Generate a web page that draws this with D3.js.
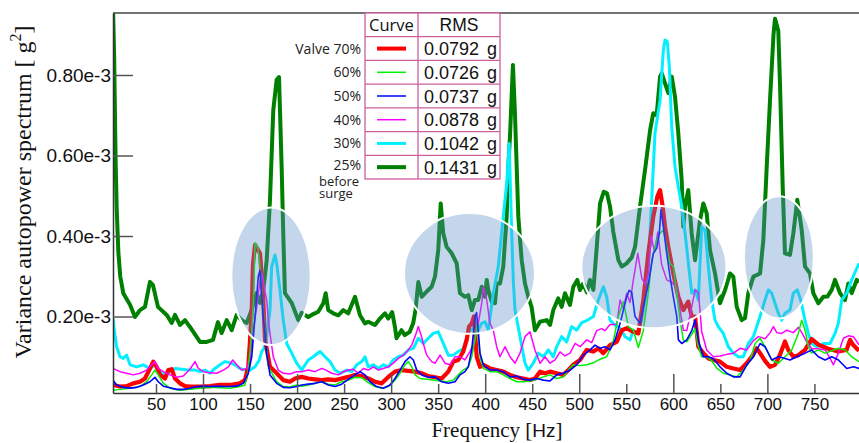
<!DOCTYPE html>
<html>
<head>
<meta charset="utf-8">
<script src="https://cdn.jsdelivr.net/npm/d3@7"></script>
<style>
  body { margin: 0; background: #fff; }
  svg { display: block; font-family: "Liberation Sans", Arial, sans-serif; }
</style>
</head>
<body>
<div id="chart"></div>
<script>
// Spectra, [frequency Hz, value in 1e-3 g^2]
const valve25 = [[4.3,0.97],[5.5,0.85],[7,0.6],[8.2,0.47],[10,0.36],[12,0.3],[15.2,0.258],[22.4,0.229],[27.7,0.199],[33,0.216],[38.3,0.224],[43.6,0.286],[46.8,0.278],[52.1,0.224],[61.4,0.204],[66.7,0.184],[70.2,0.204],[75.5,0.179],[80.8,0.191],[86.1,0.174],[96.8,0.137],[103.9,0.137],[110.6,0.142],[115.9,0.186],[119.8,0.159],[125.2,0.191],[130.5,0.166],[135.8,0.204],[141.1,0.191],[146.4,0.184],[151.7,0.216],[157.1,0.258],[160.6,0.234],[164.1,0.266],[167.7,0.34],[171.2,0.489],[174.7,0.713],[178.3,0.788],[180.8,0.795],[183.6,0.571],[185.3,0.407],[187.1,0.258],[194.2,0.234],[201.3,0.191],[204.9,0.209],[211.9,0.199],[217.2,0.206],[222.5,0.212],[227.9,0.233],[230.4,0.258],[233.1,0.216],[238.5,0.208],[243.8,0.203],[249.1,0.216],[254.4,0.208],[261.6,0.249],[266.9,0.203],[272.2,0.183],[275.6,0.187],[282.8,0.179],[288.1,0.195],[293.4,0.208],[296.9,0.195],[301.1,0.211],[304,0.175],[305.7,0.146],[311,0.166],[314.5,0.154],[319.8,0.162],[323.4,0.183],[325.9,0.216],[328.9,0.286],[332.5,0.249],[337.8,0.262],[343.1,0.274],[346.6,0.299],[350.1,0.365],[352.7,0.481],[355.4,0.407],[359,0.373],[364.4,0.357],[369.7,0.332],[373.2,0.258],[378.5,0.249],[382,0.253],[385.7,0.216],[389.1,0.241],[392.6,0.241],[396.3,0.274],[399.8,0.249],[401.6,0.291],[403.3,0.266],[406.9,0.237],[410.4,0.233],[412.2,0.282],[415.7,0.282],[419.2,0.324],[422.8,0.448],[424.6,0.572],[426.4,0.65],[429.5,0.825],[431.7,0.7],[435.2,0.448],[438.8,0.34],[442.3,0.282],[445.8,0.249],[449.3,0.224],[452.9,0.166],[458.3,0.187],[465.4,0.191],[468.9,0.179],[472.4,0.216],[477.7,0.245],[481.3,0.224],[484.8,0.258],[490.1,0.229],[493.7,0.274],[497.9,0.291],[500.8,0.266],[504.3,0.282],[508,0.26],[511.4,0.291],[515,0.266],[518.6,0.373],[522.1,0.481],[526,0.51],[529.5,0.506],[532.7,0.473],[536.2,0.41],[541.6,0.34],[545.2,0.324],[550.4,0.332],[555.8,0.347],[559.3,0.373],[564.6,0.473],[569.9,0.564],[575.3,0.663],[578.7,0.705],[582.3,0.7],[585.9,0.796],[587.7,0.804],[591.2,0.779],[594.7,0.755],[598.3,0.796],[601.8,0.746],[605.3,0.655],[608.9,0.539],[610.6,0.423],[612.4,0.473],[615.9,0.514],[619.5,0.407],[623.1,0.34],[628.4,0.44],[631.9,0.481],[635.5,0.456],[639,0.365],[644.3,0.307],[649.6,0.233],[655,0.266],[660.3,0.307],[663.8,0.299],[667.4,0.224],[672.7,0.191],[676.2,0.196],[679.7,0.258],[685.1,0.299],[692.2,0.307],[695.7,0.39],[699.3,0.572],[702.8,0.738],[706.5,0.9],[708.1,0.94],[711.6,0.91],[713.4,0.779],[716.3,0.522],[718.7,0.357],[724,0.353],[727.6,0.407],[731.8,0.49],[736.5,0.415],[740,0.324],[745.3,0.307],[748.8,0.258],[754.2,0.233],[759.5,0.249],[764,0.25],[768.4,0.266],[771.9,0.291],[777.2,0.258],[782.5,0.241],[786.1,0.282],[789.7,0.258],[795,0.291],[797.4,0.285]];

const valve30 = [[4.3,0.195],[6,0.16],[8.2,0.125],[11.7,0.1],[15.2,0.096],[18.8,0.104],[22.4,0.08],[29.5,0.075],[36.5,0.08],[43.6,0.071],[48.9,0.08],[54.3,0.063],[59.6,0.055],[64.9,0.063],[70.2,0.071],[77.3,0.069],[84.3,0.067],[91.5,0.067],[96.8,0.063],[102.1,0.067],[107.4,0.059],[112.7,0.071],[118,0.08],[123.4,0.088],[128.7,0.085],[134,0.08],[139.3,0.071],[144.6,0.067],[150,0.067],[155.3,0.075],[159.8,0.092],[162.4,0.113],[164.8,0.121],[167.7,0.15],[171.2,0.216],[173,0.324],[176.5,0.353],[178.3,0.332],[181.8,0.266],[185.3,0.191],[189,0.133],[194.3,0.109],[199.6,0.084],[204.9,0.067],[211.9,0.092],[217.2,0.1],[224.4,0.113],[229.7,0.1],[235,0.088],[240.3,0.067],[245.6,0.059],[252.8,0.067],[258.1,0.063],[263.4,0.08],[268.7,0.088],[272.2,0.1],[275.7,0.075],[281.1,0.08],[286.4,0.071],[291.7,0.08],[297,0.075],[302.3,0.092],[307.6,0.1],[312.9,0.104],[318.3,0.117],[323.6,0.121],[328.9,0.146],[334.2,0.133],[339.5,0.146],[344.8,0.158],[350.1,0.162],[355.5,0.133],[360.8,0.104],[366.1,0.104],[371.4,0.113],[376.7,0.12],[382,0.16],[387.3,0.171],[390.9,0.158],[396.2,0.183],[399.8,0.187],[403.3,0.166],[408.6,0.258],[413.9,0.324],[419.2,0.448],[422.9,0.531],[425.5,0.63],[428.2,0.407],[430,0.282],[431.7,0.216],[437,0.15],[442.3,0.084],[445.8,0.067],[451.1,0.084],[456.4,0.109],[461.8,0.1],[467.1,0.117],[472.4,0.1],[476,0.125],[481.3,0.15],[486.6,0.137],[491.9,0.175],[497.2,0.166],[502.6,0.185],[507.9,0.19],[515,0.2],[520.3,0.241],[525.6,0.274],[529.2,0.249],[532.7,0.191],[538,0.179],[543.3,0.171],[548.7,0.15],[554,0.142],[557.5,0.166],[562.8,0.158],[566.4,0.191],[569.9,0.241],[573.4,0.324],[577,0.489],[580.5,0.655],[585.9,0.738],[589.4,0.862],[591.2,0.887],[593.6,0.883],[595.8,0.82],[598.3,0.671],[601.8,0.572],[605.3,0.522],[609,0.473],[612.5,0.407],[616,0.332],[619.6,0.258],[623.1,0.266],[626.6,0.241],[630.2,0.423],[633.7,0.415],[637.2,0.324],[640.8,0.241],[644.3,0.191],[647.8,0.175],[653.1,0.158],[658.5,0.125],[663.8,0.109],[669.1,0.1],[674.4,0.1],[679.7,0.133],[685.1,0.15],[692.2,0.2],[697.5,0.241],[701,0.266],[704.6,0.258],[708.1,0.233],[711.7,0.208],[715.2,0.191],[718.7,0.208],[724,0.216],[727.6,0.258],[731.8,0.266],[735.4,0.241],[740,0.191],[743.5,0.158],[747.1,0.133],[752.4,0.125],[759.4,0.133],[766.6,0.133],[771.9,0.158],[775.4,0.183],[779,0.241],[784.3,0.258],[789.6,0.291],[797.4,0.332]];

const valve40 = [[4.3,0.071],[11.7,0.063],[18.8,0.059],[25.9,0.055],[33,0.059],[40.1,0.067],[45.4,0.08],[48.9,0.088],[52.4,0.071],[57.8,0.063],[64.9,0.055],[72,0.049],[79,0.052],[86.1,0.069],[91.5,0.088],[95,0.071],[100.3,0.063],[107.4,0.06],[114.5,0.059],[121.6,0.067],[126.9,0.075],[131.6,0.092],[135.8,0.08],[141.1,0.067],[146.4,0.071],[150,0.1],[153.5,0.166],[157.1,0.224],[160.6,0.29],[163.3,0.305],[166,0.26],[167.7,0.241],[169.5,0.19],[171.2,0.158],[174.7,0.1],[180,0.067],[185.3,0.059],[192.4,0.057],[199.6,0.063],[204.9,0.063],[211.9,0.067],[219.1,0.063],[226.2,0.071],[229.7,0.068],[236.8,0.059],[243.9,0.055],[249.2,0.063],[254.5,0.067],[259.8,0.069],[265.1,0.059],[270.5,0.071],[275.8,0.067],[281.1,0.075],[286.4,0.067],[291.7,0.071],[297,0.075],[302.3,0.084],[307.6,0.096],[312.9,0.104],[318.2,0.117],[321.9,0.129],[325.4,0.15],[328.9,0.175],[331.8,0.154],[334.2,0.133],[337.8,0.104],[343.1,0.088],[346.7,0.084],[352,0.104],[357.3,0.084],[362.6,0.08],[367.9,0.1],[373.2,0.1],[378.5,0.092],[383.8,0.113],[389.2,0.142],[392.7,0.183],[396.3,0.233],[398,0.274],[401.6,0.241],[405.1,0.183],[408.6,0.166],[412.2,0.125],[415.7,0.1],[421,0.125],[426.4,0.1],[431.7,0.084],[437,0.109],[442.3,0.15],[447.6,0.162],[452.9,0.117],[458.3,0.084],[463.6,0.1],[468.9,0.084],[474.2,0.092],[479.5,0.112],[484.8,0.102],[490.2,0.109],[495.5,0.133],[500.8,0.125],[507.9,0.142],[513.2,0.135],[518.5,0.165],[523.9,0.17],[527.4,0.165],[532.7,0.18],[539.8,0.18],[543.4,0.241],[546.9,0.22],[550.5,0.258],[554,0.235],[557.5,0.291],[562.2,0.357],[566.5,0.295],[570,0.28],[573.5,0.307],[576.5,0.4],[580,0.36],[583.5,0.41],[587.5,0.33],[593,0.291],[598.4,0.285],[603.7,0.27],[607.2,0.216],[610.7,0.166],[614.3,0.165],[619.6,0.224],[623.2,0.266],[626.7,0.26],[630.2,0.162],[635.5,0.117],[642.6,0.1],[649.7,0.102],[656.8,0.106],[663.9,0.109],[671,0.121],[678.1,0.117],[685.2,0.14],[690.5,0.15],[697.6,0.145],[702.9,0.16],[706.4,0.175],[710,0.16],[715.3,0.158],[720.6,0.166],[727.6,0.16],[733,0.173],[736.6,0.16],[741.9,0.137],[747.2,0.12],[754.2,0.12],[761.4,0.117],[766.7,0.096],[770.2,0.08],[775.5,0.109],[780.8,0.146],[786.1,0.152],[791.4,0.15],[797.4,0.13]];

const valve50 = [[4.3,0.042],[8.2,0.03],[15.2,0.024],[22.4,0.022],[29.5,0.024],[36.5,0.03],[43.6,0.038],[48.9,0.049],[52.4,0.038],[57.8,0.027],[64.9,0.023],[72,0.019],[79,0.019],[86.1,0.022],[93.3,0.026],[100.3,0.027],[107.4,0.026],[114.5,0.027],[121.6,0.026],[128.7,0.026],[135.8,0.027],[142.8,0.034],[148.1,0.059],[151.8,0.1],[155.3,0.2],[158.8,0.3],[160.6,0.315],[162.3,0.26],[164.1,0.2],[167.7,0.109],[171.2,0.055],[178.3,0.034],[185.3,0.024],[192.4,0.023],[199.6,0.026],[204.9,0.03],[211.9,0.032],[219.1,0.034],[226.2,0.038],[233.2,0.03],[240.3,0.026],[247.4,0.032],[254.5,0.044],[261.6,0.055],[266.9,0.063],[272.2,0.055],[277.5,0.038],[284.6,0.026],[291.7,0.022],[298.8,0.03],[304.1,0.046],[309.4,0.067],[314.7,0.088],[320,0.1],[323.6,0.092],[327.2,0.067],[332.5,0.055],[339.5,0.049],[346.6,0.05],[353.8,0.038],[360.8,0.034],[367.9,0.038],[373.2,0.055],[378.5,0.063],[382,0.075],[385.7,0.117],[389.2,0.2],[390.8,0.21],[392.4,0.17],[394.5,0.109],[398,0.08],[405.1,0.067],[412.2,0.067],[419.3,0.063],[426.4,0.05],[433.5,0.052],[440.5,0.044],[447.6,0.042],[454.7,0.046],[461.8,0.042],[468.9,0.04],[476,0.055],[483,0.059],[490.2,0.067],[497.3,0.08],[504.4,0.104],[511.5,0.117],[516.8,0.129],[522.1,0.121],[527.4,0.125],[532.7,0.117],[538.1,0.142],[543.4,0.183],[546.9,0.216],[550.5,0.249],[553,0.265],[555.8,0.26],[559.3,0.2],[564.6,0.183],[568.2,0.224],[573.5,0.282],[578.8,0.357],[582.4,0.37],[585.1,0.407],[586.9,0.465],[589.4,0.423],[593,0.357],[596.5,0.299],[600,0.249],[603.7,0.2],[605.4,0.142],[609,0.133],[614.3,0.142],[619.6,0.165],[623.1,0.191],[626.7,0.14],[632,0.1],[637.3,0.1],[642.6,0.095],[649.7,0.075],[656.8,0.059],[663.9,0.05],[671,0.05],[678.1,0.08],[685.2,0.1],[692.2,0.133],[697.5,0.125],[704.6,0.092],[711.7,0.1],[717,0.097],[724.1,0.092],[731.2,0.1],[740,0.109],[747.1,0.117],[754.2,0.1],[761.3,0.092],[768.4,0.1],[775.5,0.092],[784.4,0.071],[791.5,0.075],[797.4,0.071]];

const valve60 = [[4.3,0.017],[11.7,0.019],[22.4,0.022],[33,0.026],[40.1,0.038],[45.4,0.055],[48.9,0.067],[52.4,0.055],[57.8,0.034],[64.9,0.022],[75.5,0.017],[86.1,0.019],[96.8,0.022],[107.4,0.024],[118,0.023],[128.7,0.022],[139.3,0.026],[144.6,0.03],[148.1,0.067],[151.8,0.166],[153.5,0.233],[155.3,0.383],[158.5,0.37],[160.6,0.324],[163.8,0.22],[166,0.159],[169.5,0.075],[178.3,0.038],[185.3,0.026],[192.4,0.025],[199.6,0.03],[205.2,0.027],[211.9,0.03],[219.1,0.034],[226.2,0.038],[233.2,0.032],[240.3,0.03],[247.4,0.038],[254.5,0.042],[261.6,0.049],[268.7,0.048],[275.7,0.036],[282.8,0.026],[290,0.022],[297,0.026],[304.1,0.042],[309.4,0.059],[314.7,0.08],[318.3,0.088],[321.9,0.075],[325.4,0.055],[330.7,0.046],[337.8,0.044],[344.8,0.042],[351.9,0.04],[359,0.038],[366.1,0.042],[371.4,0.055],[376.7,0.067],[382,0.075],[385.7,0.1],[389.1,0.142],[391.3,0.18],[394.5,0.1],[398,0.071],[405.1,0.063],[412.2,0.063],[419.3,0.055],[426.4,0.046],[433.5,0.038],[440.5,0.038],[447.6,0.04],[454.7,0.044],[461.8,0.05],[468.9,0.055],[476,0.046],[483,0.05],[488.4,0.067],[493.7,0.08],[500.8,0.078],[507.9,0.08],[515,0.085],[522.1,0.094],[529.2,0.1],[536.3,0.14],[541.6,0.2],[546.9,0.237],[552.2,0.175],[557.5,0.166],[562.8,0.123],[568.1,0.165],[573.4,0.258],[577,0.34],[582.3,0.39],[585.9,0.407],[589.4,0.415],[593,0.373],[596.5,0.332],[600,0.324],[603.6,0.258],[607.1,0.191],[610.6,0.142],[614.2,0.137],[619.5,0.155],[623.1,0.17],[626.6,0.125],[630.2,0.1],[635.5,0.1],[640.8,0.09],[646.1,0.072],[653.2,0.059],[660.3,0.055],[667.4,0.05],[674.4,0.067],[681.6,0.09],[686.9,0.133],[692.2,0.146],[697.5,0.125],[704.6,0.092],[711.7,0.084],[718.8,0.1],[725.9,0.117],[732.9,0.158],[736.5,0.191],[740,0.166],[743.6,0.125],[747.1,0.109],[754.2,0.117],[761.3,0.109],[768.4,0.115],[775.5,0.121],[782.6,0.117],[789.7,0.1],[797.4,0.088]];

const valve70 = [[4.3,0.03],[11.7,0.026],[18.8,0.027],[25.9,0.034],[33,0.038],[38.3,0.046],[43.6,0.071],[47.1,0.088],[50.7,0.075],[54.3,0.055],[59.6,0.046],[63.1,0.067],[66.7,0.069],[70.2,0.046],[75.5,0.034],[80.8,0.027],[86.1,0.026],[96.8,0.026],[107.4,0.027],[118,0.03],[128.7,0.03],[139.3,0.034],[144.6,0.042],[148.1,0.075],[150,0.142],[151.8,0.216],[153.1,0.33],[155.3,0.378],[160.6,0.357],[163.8,0.25],[166,0.142],[171.2,0.075],[178.3,0.059],[185.3,0.042],[192.4,0.038],[197.8,0.046],[204.9,0.05],[211.9,0.046],[219.1,0.044],[226.2,0.042],[233.2,0.044],[240.3,0.042],[247.4,0.046],[254.5,0.05],[261.6,0.055],[268.7,0.052],[275.7,0.046],[282.8,0.038],[290,0.034],[297,0.05],[304.1,0.063],[311.2,0.067],[318.2,0.065],[325.4,0.063],[332.5,0.059],[339.5,0.052],[346.6,0.049],[353.8,0.046],[360.8,0.063],[366.1,0.088],[371.4,0.092],[376.7,0.113],[380.3,0.142],[382.8,0.175],[385.7,0.183],[388.1,0.2],[391,0.1],[394.5,0.075],[398,0.08],[405.1,0.071],[412.2,0.067],[419.3,0.063],[426.4,0.055],[433.5,0.049],[440.5,0.046],[447.6,0.042],[452.9,0.046],[458.3,0.063],[463.6,0.059],[468.9,0.063],[476,0.059],[483,0.055],[488.4,0.067],[493.7,0.08],[500.8,0.092],[507.9,0.117],[515,0.113],[520.3,0.121],[525.6,0.109],[532.7,0.129],[539.8,0.137],[545.2,0.166],[550.5,0.171],[557.5,0.162],[562.8,0.158],[568.1,0.241],[573.4,0.357],[578.7,0.448],[583,0.498],[585.9,0.514],[588.7,0.473],[591.2,0.423],[594.7,0.373],[600,0.307],[605.3,0.249],[610.6,0.216],[615.9,0.237],[619.5,0.2],[623.1,0.2],[626.6,0.125],[631.9,0.109],[637.2,0.096],[642.6,0.092],[649.6,0.088],[656.8,0.075],[663.8,0.071],[671,0.067],[678,0.084],[683.3,0.1],[688.7,0.121],[692.2,0.109],[697.5,0.09],[702.8,0.075],[708.1,0.08],[713.4,0.105],[718.7,0.138],[722.2,0.117],[727.6,0.1],[732.9,0.104],[740,0.117],[747.1,0.144],[754.2,0.13],[764.8,0.12],[775.4,0.113],[784.3,0.117],[787.8,0.142],[791.3,0.129],[797.4,0.115]];

// Legend table
const curveLabels = ["Valve 70%", "60%", "50%", "40%", "30%", "25%"];
const rmsValues = ["0.0792", "0.0726", "0.0737", "0.0878", "0.1042", "0.1431"];

// Ticks
const xTicks = [50, 100, 150, 200, 250, 300, 350, 400, 450, 500, 550, 600, 650, 700, 750];
const yTicks = [0.2, 0.4, 0.6, 0.8];

// Highlighted zones: [centre Hz, half width Hz, centre value, half height value]
const zones = [[172.3, 42.2, 0.30, 0.171], [383.3, 69.6, 0.307, 0.150], [579.4, 77.1, 0.323, 0.152], [712.2, 37.2, 0.347, 0.152]];

const width = 859, height = 443;
const plot = { left: 113, right: 859, top: 13, bottom: 393 };

const svg = d3.select("#chart").append("svg")
    .attr("width", width)
    .attr("height", height);

const x = d3.scaleLinear().domain([4.3, 797.4]).range([plot.left, plot.right]);
const y = d3.scaleLinear().domain([0.01, 0.954]).range([plot.bottom, plot.top]);

svg.append("clipPath").attr("id", "clip")
    .append("rect")
    .attr("x", plot.left).attr("y", plot.top)
    .attr("width", plot.right - plot.left).attr("height", plot.bottom - plot.top);

// Series, back to front
const series = [
    { data: valve25, color: "#008000", width: 4 },
    { data: valve30, color: "#00f0ff", width: 3 },
    { data: valve70, color: "#ff0000", width: 4.2 },
    { data: valve40, color: "#ff00ff", width: 1.5 },
    { data: valve60, color: "#00f000", width: 1.5 },
    { data: valve50, color: "#0000ff", width: 1.6 }
];

const line = d3.line().x(d => x(d[0])).y(d => y(d[1]));

const lines = svg.append("g").attr("clip-path", "url(#clip)");
lines.selectAll("path")
    .data(series)
    .join("path")
    .attr("d", d => line(d.data))
    .attr("fill", "none")
    .attr("stroke", d => d.color)
    .attr("stroke-width", d => d.width)
    .attr("stroke-linejoin", "round");

// Highlight ellipses
svg.append("g").selectAll("ellipse")
    .data(zones)
    .join("ellipse")
    .attr("cx", d => x(d[0]))
    .attr("cy", d => y(d[2]))
    .attr("rx", d => x(d[0] + d[1]) - x(d[0]))
    .attr("ry", d => y(d[2] - d[3]) - y(d[2]))
    .attr("fill", "#5c8dc9")
    .attr("fill-opacity", 0.36)
    .attr("stroke", "#fff")
    .attr("stroke-width", 2);

// X axis, ticks pointing into the plot
const xAxis = svg.append("g")
    .attr("transform", `translate(0,${plot.bottom})`)
    .call(d3.axisBottom(x).tickValues(xTicks).tickSizeInner(-9).tickSizeOuter(0).tickPadding(5));
xAxis.selectAll(".tick line")
    .attr("y2", d => d % 100 === 0 ? -19 : -9)
    .attr("stroke", "#555")
    .attr("stroke-width", 1.5);
xAxis.selectAll(".tick text")
    .attr("font-size", 17)
    .attr("fill", "#111");
xAxis.select(".domain").attr("stroke", "#333").attr("stroke-width", 1.5);

// Y axis
const yAxis = svg.append("g")
    .attr("transform", `translate(${plot.left},0)`)
    .call(d3.axisLeft(y).tickValues(yTicks).tickSizeInner(-20).tickSizeOuter(0).tickPadding(2)
        .tickFormat(d => d3.format(".2f")(d) + "e-3"));
yAxis.selectAll(".tick line").attr("stroke", "#555").attr("stroke-width", 1.5);
yAxis.selectAll(".tick text").attr("font-size", 19).attr("fill", "#111");
yAxis.select(".domain").attr("stroke", "#333").attr("stroke-width", 1.5);

// Top border
svg.append("line")
    .attr("x1", plot.left).attr("x2", plot.right)
    .attr("y1", plot.top).attr("y2", plot.top)
    .attr("stroke", "#444").attr("stroke-width", 1.5);

// Axis titles
const xTitle = svg.append("text")
    .attr("x", 497).attr("y", 437)
    .attr("text-anchor", "middle")
    .attr("font-family", "'Liberation Serif', 'Times New Roman', serif")
    .attr("font-size", 21)
    .attr("fill", "#111");
xTitle.append("tspan").text("Frequency [");
xTitle.append("tspan").attr("font-family", "'Liberation Sans', Arial, sans-serif").attr("font-size", 19).text("Hz");
xTitle.append("tspan").text("]");

const yTitle = svg.append("text")
    .attr("transform", "translate(31,192) rotate(-90)")
    .attr("text-anchor", "middle")
    .attr("font-family", "'Liberation Serif', 'Times New Roman', serif")
    .attr("font-size", 24)
    .attr("fill", "#111");
yTitle.append("tspan").text("Variance autopower spectrum [ g");
yTitle.append("tspan").attr("font-size", 16).attr("dy", -10).text("2");
yTitle.append("tspan").attr("dy", 10).text("]");

// Legend table
const legendColors = ["#ff0000", "#00f000", "#0000ff", "#ff00ff", "#00f0ff", "#008000"];
const legendWidths = [4, 1.5, 1.5, 1.5, 3, 4];
const tbl = { left: 365, mid: 418, right: 500 };
const rows = d3.scaleBand().domain(d3.range(7)).range([13, 179]);
const legend = svg.append("g");
const border = "#cc5f9d";

legend.append("rect")
    .attr("x", tbl.left).attr("y", rows(0))
    .attr("width", tbl.right - tbl.left).attr("height", rows.step() * 7)
    .attr("fill", "#fff").attr("stroke", border).attr("stroke-width", 1.3);
legend.selectAll("line.row")
    .data(d3.range(1, 7))
    .join("line")
    .attr("class", "row")
    .attr("x1", tbl.left).attr("x2", tbl.right)
    .attr("y1", d => rows(d)).attr("y2", d => rows(d))
    .attr("stroke", border).attr("stroke-width", 1.3);
legend.append("line")
    .attr("x1", tbl.mid).attr("x2", tbl.mid)
    .attr("y1", rows(0)).attr("y2", rows(6) + rows.step())
    .attr("stroke", border).attr("stroke-width", 1.3);

legend.append("text")
    .attr("x", (tbl.left + tbl.mid) / 2).attr("y", rows(0) + rows.step() / 2 + 6)
    .attr("text-anchor", "middle").attr("font-family", "'Open Sans', sans-serif")
    .attr("font-size", 16.5).attr("fill", "#111").text("Curve");
legend.append("text")
    .attr("x", (tbl.mid + tbl.right) / 2).attr("y", rows(0) + rows.step() / 2 + 6)
    .attr("text-anchor", "middle").attr("font-size", 17.5).attr("fill", "#111").text("RMS");

const rowsG = legend.selectAll("g.entry")
    .data(curveLabels)
    .join("g")
    .attr("class", "entry")
    .attr("transform", (d, i) => `translate(0,${rows(i + 1) + rows.step() / 2})`);

rowsG.append("line")
    .attr("x1", 377).attr("x2", 406)
    .attr("stroke", (d, i) => legendColors[i])
    .attr("stroke-width", (d, i) => legendWidths[i]);

rowsG.append("text")
    .attr("x", 424).attr("y", 6.5)
    .attr("font-size", 18).attr("fill", "#111")
    .text((d, i) => rmsValues[i]);
rowsG.append("text")
    .attr("x", 487).attr("y", 6.5)
    .attr("font-size", 18).attr("fill", "#111")
    .text("g");

rowsG.append("text")
    .attr("x", 361).attr("y", (d, i) => i === 5 ? 2.5 : 5)
    .attr("text-anchor", "end")
    .attr("font-family", "'Open Sans', sans-serif")
    .attr("font-size", 14).attr("fill", "#222")
    .text(d => d);

const note = legend.append("text")
    .attr("font-family", "'Open Sans', sans-serif")
    .attr("font-size", 13).attr("fill", "#222");
note.append("tspan").attr("x", 319).attr("y", rows(6) + rows.step() + 6.5).text("before");
note.append("tspan").attr("x", 319).attr("dy", 12).text("surge");
</script>
</body>
</html>
